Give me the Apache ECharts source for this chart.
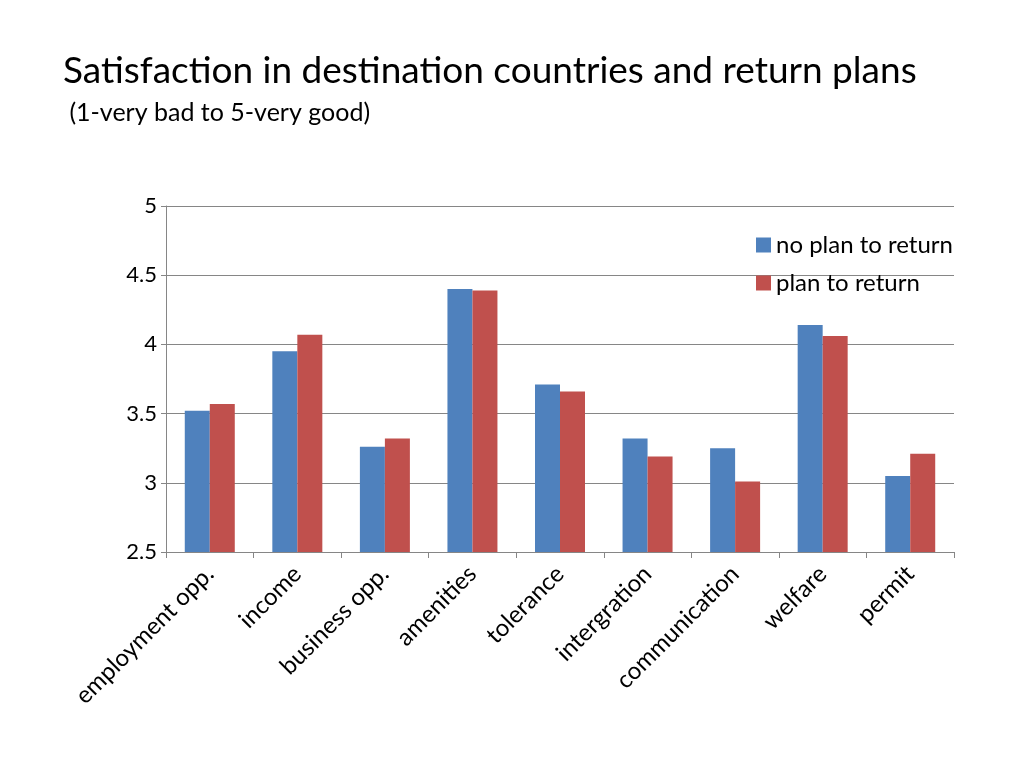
<!DOCTYPE html>
<html>
<head>
<meta charset="utf-8">
<script src="https://cdn.jsdelivr.net/npm/echarts@6/dist/echarts.min.js"></script>
<style>
  html, body { margin: 0; padding: 0; background: #fff; }
  #chart { width: 1024px; height: 768px; }
</style>
</head>
<body>
<div id="chart"></div>
<script>
// categories and values
var categories = ['employment opp.', 'income', 'business opp.', 'amenities', 'tolerance',
                  'intergration', 'communication', 'welfare', 'permit']
var noPlan = [3.52, 3.95, 3.26, 4.40, 3.71, 3.32, 3.25, 4.14, 3.05]
var planReturn = [3.57, 4.07, 3.32, 4.39, 3.66, 3.19, 3.01, 4.06, 3.21]
var seriesNames = ['no plan to return', 'plan to return']

var chart = echarts.init(document.getElementById('chart'))
var font = 'Lato, "Open Sans", sans-serif'
chart.setOption({
    animation: false,
    textStyle: { fontFamily: font },
    title: {
        text: 'Satisfaction in destination countries and return plans',
        subtext: ' (1-very bad to 5-very good)',
        left: 58,
        top: 48,
        itemGap: 10,
        textStyle: { fontFamily: font, fontSize: 37, fontWeight: 'normal', color: '#000' },
        subtextStyle: { fontFamily: font, fontSize: 25, color: '#000' }
    },
    legend: {
        data: seriesNames,
        orient: 'vertical',
        left: 751,
        top: 228,
        itemWidth: 15,
        itemHeight: 15,
        itemGap: 14,
        icon: 'rect',
        textStyle: { fontFamily: font, fontSize: 24, color: '#000' }
    },
    grid: { left: 166, right: 70, top: 206, bottom: 216 },
    xAxis: {
        type: 'category',
        data: categories,
        axisLine: { lineStyle: { color: '#868686' } },
        axisTick: { show: true, length: 6, lineStyle: { color: '#868686' } },
        axisLabel: { rotate: 45, fontFamily: font, fontSize: 24, color: '#000', margin: 18, interval: 0 }
    },
    yAxis: {
        type: 'value',
        min: 2.5,
        max: 5,
        interval: 0.5,
        axisLine: { show: true, lineStyle: { color: '#868686' } },
        axisTick: { show: true, length: 5, lineStyle: { color: '#868686' } },
        axisLabel: { fontFamily: font, fontSize: 22, color: '#000', margin: 9 },
        splitLine: { lineStyle: { color: '#868686', width: 1 } }
    },
    series: [{
        name: seriesNames[0],
        type: 'bar',
        data: noPlan,
        barWidth: 25,
        barGap: '0%',
        itemStyle: { color: '#4F81BD' }
    }, {
        name: seriesNames[1],
        type: 'bar',
        data: planReturn,
        barWidth: 25,
        barGap: '0%',
        itemStyle: { color: '#C0504D' }
    }]
})
</script>
</body>
</html>
